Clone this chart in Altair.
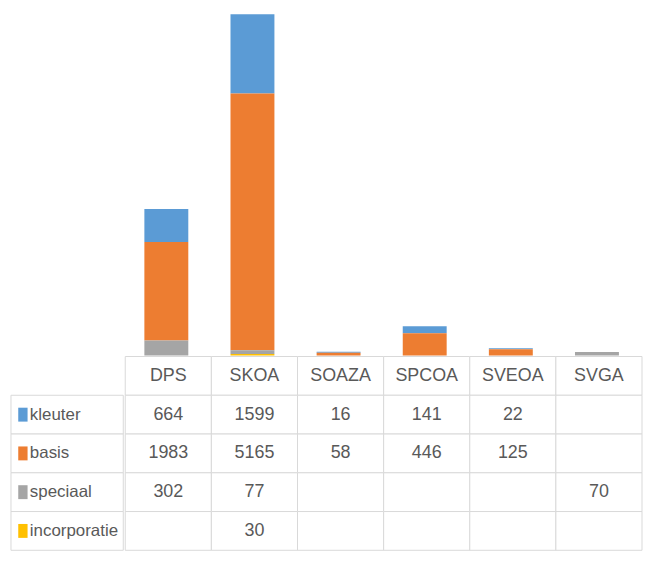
import altair as alt
import pandas as pd

categories = ["DPS", "SKOA", "SOAZA", "SPCOA", "SVEOA", "SVGA"]
series = ["kleuter", "basis", "speciaal", "incorporatie"]
kleuter = [664, 1599, 16, 141, 22, None]
basis = [1983, 5165, 58, 446, 125, None]
speciaal = [302, 77, None, None, None, 70]
incorporatie = [None, 30, None, None, None, None]
colors = ["#5B9BD5", "#ED7D31", "#A5A5A5", "#FFC000"]
stack_rank = [3, 2, 1, 0]

values = {"kleuter": kleuter, "basis": basis, "speciaal": speciaal, "incorporatie": incorporatie}
rows = []
for s_i, s in enumerate(series):
    for c_i, c in enumerate(categories):
        rows.append({"cat": c, "series": s, "value": values[s][c_i], "rank": stack_rank[s_i]})
df = pd.DataFrame(rows)
df_val = df.dropna(subset=["value"]).copy()
df_val["label"] = df_val["value"].astype(int).astype(str)

row_domain = ["header"] + series
cells = pd.DataFrame([{"cat": c, "row": r} for r in row_domain for c in categories])
header = pd.DataFrame({"cat": categories, "row": ["header"] * len(categories)})
labels = pd.DataFrame({"row": series, "series": series})

FONT = "Liberation Sans"
FS = 18
FSL = 17
TXT = "#595959"
GRID = "#d9d9d9"

LABW = 113
TABW = 520
BARH = 345
TABH = 195

xscale = alt.Scale(domain=categories, paddingInner=0, paddingOuter=0)
yrow = alt.Scale(domain=row_domain, paddingInner=0, paddingOuter=0)
cscale = alt.Scale(domain=series, range=colors)

bars = alt.Chart(df_val).mark_bar(width={"band": 0.51}).encode(
    x=alt.X("cat:N", scale=xscale, axis=None, sort=categories),
    y=alt.Y("value:Q", stack="zero", scale=alt.Scale(domain=[0, 6900], nice=False), axis=None),
    color=alt.Color("series:N", scale=cscale, legend=None),
    order=alt.Order("rank:Q", sort="ascending"),
).properties(width=TABW, height=BARH)

spacer = alt.Chart(pd.DataFrame({"a": [0]})).mark_point(opacity=0).encode(
    x=alt.value(0), y=alt.value(0)
).properties(width=LABW, height=BARH)

cell_rects = alt.Chart(cells).mark_rect(fill="white", stroke=GRID, strokeWidth=1).encode(
    x=alt.X("cat:N", scale=xscale, axis=None, sort=categories),
    y=alt.Y("row:N", scale=yrow, axis=None, sort=row_domain),
)
head_text = alt.Chart(header).mark_text(font=FONT, fontSize=FS, color=TXT).encode(
    x=alt.X("cat:N", scale=xscale, axis=None, sort=categories),
    y=alt.Y("row:N", scale=yrow, axis=None, sort=row_domain),
    text="cat:N",
)
val_text = alt.Chart(df_val).mark_text(font=FONT, fontSize=FS, color=TXT).encode(
    x=alt.X("cat:N", scale=xscale, axis=None, sort=categories),
    y=alt.Y("series:N", scale=yrow, axis=None, sort=row_domain),
    text="label:N",
)
table = alt.layer(cell_rects, head_text, val_text).properties(width=TABW, height=TABH)

lab_rects = alt.Chart(labels).mark_rect(fill="white", stroke=GRID, strokeWidth=1).encode(
    y=alt.Y("row:N", scale=yrow, axis=None, sort=row_domain),
)
lab_sym = alt.Chart(labels).mark_point(
    shape="M-0.67,-1L0.67,-1L0.67,1L-0.67,1Z", filled=True, size=196, opacity=1, strokeWidth=0
).encode(
    x=alt.value(12),
    y=alt.Y("row:N", scale=yrow, axis=None, sort=row_domain),
    color=alt.Color("series:N", scale=cscale, legend=None),
)
lab_text = alt.Chart(labels).mark_text(font=FONT, fontSize=FSL, color=TXT, align="left").encode(
    x=alt.value(19),
    y=alt.Y("row:N", scale=yrow, axis=None, sort=row_domain),
    text="series:N",
)
lab_col = alt.layer(lab_rects, lab_sym, lab_text).properties(width=LABW, height=TABH)

top = alt.hconcat(spacer, bars, spacing=0)
bottom = alt.hconcat(lab_col, table, spacing=0)
chart = alt.vconcat(top, bottom, spacing=0).properties(padding=0).configure_view(strokeWidth=0)

chart.save("out.html", embed_options={"renderer": "svg", "actions": False})
